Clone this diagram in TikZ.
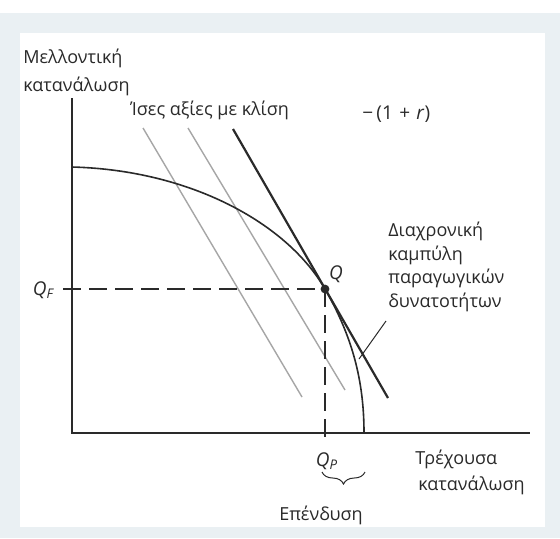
\documentclass[tikz,border=0pt]{standalone}
\usepackage{fontspec}
\setmainfont{Open Sans}
\usepackage{xcolor}
\definecolor{ppfFrame}{HTML}{EAF0F3}
\definecolor{ppfInk}{HTML}{2A2A2A}
\definecolor{ppfGray}{HTML}{A6A6A6}
\usetikzlibrary{decorations.pathreplacing}

\begin{document}
\begin{tikzpicture}[x=0.5pt,y=-0.5pt,
      every node/.style={font=\fontsize{9}{14}\selectfont,inner sep=0pt,text=ppfInk},
      lbl/.style={align=left,anchor=north west},
      axis/.style={line width=1.3pt,ppfInk},
      frontier/.style={line width=0.8pt,ppfInk},
      tangent/.style={line width=1.1pt,ppfInk},
      isoline/.style={line width=0.7pt,ppfGray},
      guide/.style={line width=0.6pt,ppfInk,dash pattern=on 9pt off 4pt},
      pointer/.style={line width=0.5pt,ppfInk},
    ]

    % frame and panel
    \useasboundingbox (0,0) rectangle (560,538);
    \fill[ppfFrame] (0,13) rectangle (560,538);
    \fill[white] (20,33) rectangle (545,527);

    % Points
    \coordinate (O) at (72,433);
    \coordinate (yTop) at (72,98);
    \coordinate (xEnd) at (530,433);
    \coordinate (fStart) at (72,167);
    \coordinate (Q) at (325,289);
    \coordinate (fEnd) at (364,433);
    \coordinate (qfL) at (63,289);
    \coordinate (qpB) at (325,442);
    \coordinate (tTop) at (233,129);
    \coordinate (tBot) at (388,398);
    \coordinate (isoAT) at (143,128);
    \coordinate (isoAB) at (302,397);
    \coordinate (isoBT) at (188,128);
    \coordinate (isoBB) at (345,390);
    \coordinate (brL) at (322,472);
    \coordinate (brR) at (365,472);
    \coordinate (ptrEnd) at (359,359);

    % Axes
    \draw[axis] (yTop) -- (O) -- (xEnd);

    % Lines of equal value
    \draw[isoline] (isoAT) -- (isoAB);
    \draw[isoline] (isoBT) -- (isoBB);

    % Production possibility curve
    \draw[frontier] (fStart) .. controls (190,170) and (287,223) .. (Q)
                    .. controls (352,336) and (364,380) .. (fEnd);

    % Tangent line
    \draw[tangent] (tTop) -- (tBot);

    % Dashed guides
    \draw[guide] (qfL) -- (Q);
    \draw[guide] (Q) -- (qpB);
    \fill[ppfInk] (Q) circle (2.2pt);

    % Investment brace
    \draw[pointer,decorate,decoration={brace,amplitude=6pt,mirror}] (brL) -- (brR);

    % Labels
    \node[lbl] (yLbl) at (23,49) {Μελλοντική\\κατανάλωση};
    \node[anchor=base west] (isoLbl) at (130,115) {Ίσες αξίες με κλίση};
    \node[anchor=base west,font=\fontsize{9.5}{12}\selectfont] (slopeLbl) at (362,119)
        {−\,(1\,\,+\,\,\textit{r})};
    \node[lbl,font=\fontsize{9}{11.75}\selectfont] (ppfLbl) at (388,222)
        {Διαχρονική\\καμπύλη\\παραγωγικών\\δυνατοτήτων};
    \node[lbl,font=\fontsize{9}{13}\selectfont] (xLbl) at (415,450) {Τρέχουσα\\\,κατανάλωση};
    \node[font=\fontsize{9.5}{12}\selectfont] (qLbl) at (336,274) {\textit{Q}};
    \node[font=\fontsize{9.5}{12}\selectfont] (qfLbl) at (44,290) {\textit{Q}\textsubscript{\textit{F}}};
    \node[font=\fontsize{9.5}{12}\selectfont] (qpLbl) at (327,461) {\textit{Q}\textsubscript{\textit{P}}};
    \node[anchor=base] (invLbl) at (321,520) {Επένδυση};

    % Pointer to the curve
    \draw[pointer] (386,321) -- (ptrEnd);

  \end{tikzpicture}
\end{document}
